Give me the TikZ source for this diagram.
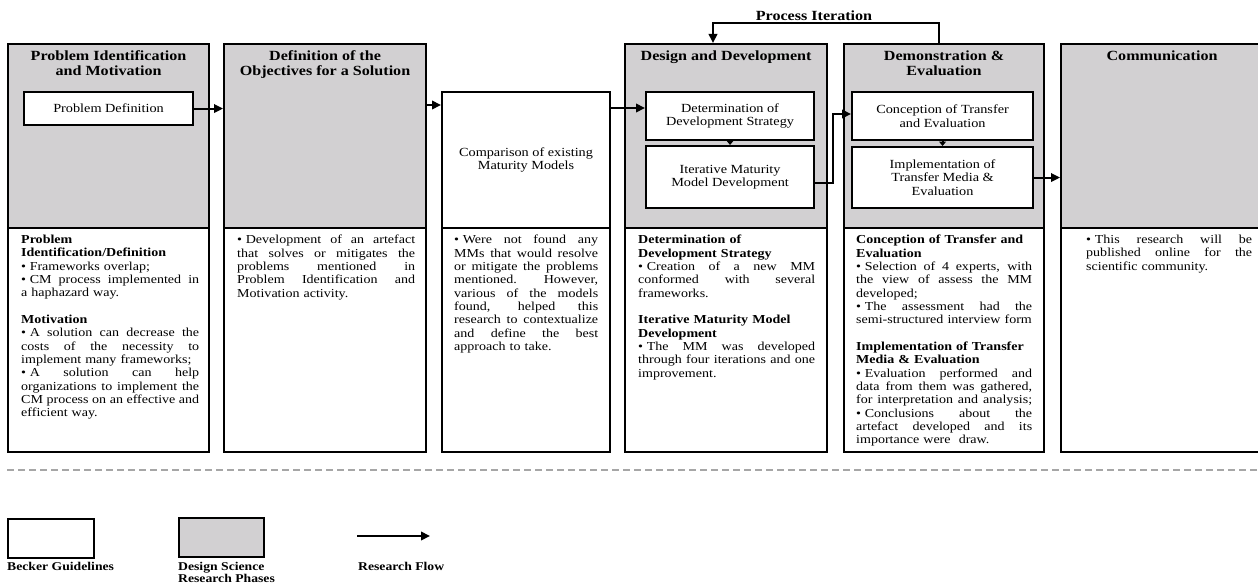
\documentclass[tikz,border=0pt]{standalone}
\usepackage{fontspec}
\setmainfont{Liberation Serif}[FakeStretch=1.15]
\usetikzlibrary{arrows.meta}
\definecolor{phasegray}{RGB}{210,208,210}
\newcommand\jl[1]{\makebox[\hsize][s]{\spaceskip=0pt\xspaceskip=0pt #1}}
\newcommand\nl[1]{\mbox{#1}}
\newcommand\bul{\mbox{•\kern0.3em}}
\newcommand\bodyf{\fontsize{12.2}{13.33}\selectfont}
\newcommand\titlef{\fontsize{14}{15}\selectfont\bfseries}
\newcommand\boxf{\fontsize{12.4}{13.5}\selectfont}
\newcommand\legf{\fontsize{11.9}{12.5}\selectfont\bfseries}
\tikzset{
  phase/.style={draw, line width=2.1pt, fill=phasegray, inner sep=0pt, anchor=north west},
  desc/.style={draw, line width=2.1pt, fill=white, inner sep=0pt, anchor=north west},
  innerbox/.style={draw, line width=2.1pt, fill=white, inner sep=0pt, anchor=north west, align=center, font=\boxf},
  flow/.style={line width=2pt, -{Triangle[length=9pt,width=8.5pt]}},
  flowshort/.style={line width=2pt, -{Triangle[length=4.5pt,width=7pt]}},
  body/.style={anchor=north west, inner sep=0pt, align=left, font=\bodyf},
  title/.style={anchor=north, inner sep=0pt, align=center, font=\titlef},
  legend/.style={inner sep=0pt, align=left, font=\legf, anchor=north west},
  sep/.style={line width=1.2pt, gray!70, dash pattern=on 7pt off 4pt}
}
\begin{document}
\begin{tikzpicture}[x=1pt,y=-1pt]
\useasboundingbox (0,0) rectangle (1258,586);
% phase columns
\node[phase, minimum width=201pt, minimum height=184pt] (p1) at (7,43) {};
\node[desc, minimum width=201pt, minimum height=224pt] (d1) at (7,227) {};
\node[phase, minimum width=202pt, minimum height=184pt] (p2) at (223,43) {};
\node[desc, minimum width=202pt, minimum height=224pt] (d2) at (223,227) {};
\node[desc, minimum width=168pt, minimum height=136pt, align=center, font=\boxf] (cp) at (441,91) {Comparison of existing\\Maturity Models};
\node[desc, minimum width=168pt, minimum height=224pt] (d3) at (441,227) {};
\node[phase, minimum width=202pt, minimum height=184pt] (p4) at (624,43) {};
\node[desc, minimum width=202pt, minimum height=224pt] (d4) at (624,227) {};
\node[phase, minimum width=200pt, minimum height=184pt] (p5) at (843,43) {};
\node[desc, minimum width=200pt, minimum height=224pt] (d5) at (843,227) {};
\node[phase, minimum width=202pt, minimum height=184pt] (p6) at (1060,43) {};
\node[desc, minimum width=202pt, minimum height=224pt] (d6) at (1060,227) {};
% titles
\node[title] (t1) at ([yshift=-7.5pt]p1.north) {Problem Identification\\and Motivation};
\node[title] (t2) at ([yshift=-7.5pt]p2.north) {Definition of the\\Objectives for a Solution};
\node[title] (t4) at ([yshift=-7.5pt]p4.north) {Design and Development};
\node[title] (t5) at ([yshift=-7.5pt]p5.north) {Demonstration \&\\Evaluation};
\node[title] (t6) at ([yshift=-7.5pt]p6.north) {Communication};
% inner boxes
\node[innerbox, minimum width=169pt, minimum height=33pt] (pd) at (23,91) {Problem Definition};
\node[innerbox, minimum width=168pt, minimum height=48pt] (dds) at (645,91) {Determination of\\Development Strategy};
\node[innerbox, minimum width=168pt, minimum height=62pt] (immd) at (645,145) {Iterative Maturity\\Model Development};
\node[innerbox, minimum width=181pt, minimum height=48pt] (cte) at (851,91) {Conception of Transfer\\and Evaluation};
\node[innerbox, minimum width=181pt, minimum height=61pt] (itme) at (851,146) {Implementation of\\Transfer Media \&\\Evaluation};
% connectors
\coordinate (a2) at (0,105);
\coordinate (a3) at (0,108);
\coordinate (k1) at (0,183);
\coordinate (k2) at (833,114);
\coordinate (k3) at (939,23);
\coordinate (k4) at (713,23);
\draw[flow] (pd.east) -- (pd.east -| p2.west);
\draw[flow] (p2.east |- a2) -- (cp.west |- a2);
\draw[flow] (cp.east |- a3) -- (dds.west |- a3);
\draw[flowshort] (dds.south) -- (immd.north);
\draw[flow] (immd.east |- k1) -| (k2) -- (cte.west |- k2);
\draw[flowshort] (cte.south) -- (itme.north);
\draw[flow] (itme.east) -- (itme.east -| p6.west);
\draw[flow] (p5.north -| k3) -- (k3) -- (k4) -- (p4.north -| k4);
\node[inner sep=0pt, font=\titlef] (pi) at (814,16) {Process Iteration};
% descriptions
\node[body, text width=178pt] (b1) at (21,235) {%
\nl{\textbf{Problem}}\\
\nl{\textbf{Identification/Definition}}\\
\nl{\bul Frameworks overlap;}\\
\jl{\bul CM process implemented in}\\
\nl{a haphazard way.}\\[13.33pt]
\nl{\textbf{Motivation}}\\
\jl{\bul A solution can decrease the}\\
\jl{costs of the necessity to}\\
\nl{implement many frameworks;}\\
\jl{\bul A solution can help}\\
\jl{organizations to implement the}\\
\jl{CM process on an effective and}\\
\nl{efficient way.}};
\node[body, text width=178pt] (b2) at (237,235) {%
\jl{\bul Development of an artefact}\\
\jl{that solves or mitigates the}\\
\jl{problems mentioned in}\\
\jl{Problem Identification and}\\
\nl{Motivation activity.}};
\node[body, text width=144pt] (b3) at (454,235) {%
\jl{\bul Were not found any}\\
\jl{MMs that would resolve}\\
\jl{or mitigate the problems}\\
\jl{mentioned. However,}\\
\jl{various of the models}\\
\jl{found, helped this}\\
\jl{research to contextualize}\\
\jl{and define the best}\\
\nl{approach to take.}};
\node[body, text width=177pt] (b4) at (638,235) {%
\nl{\textbf{Determination of}}\\
\nl{\textbf{Development Strategy}}\\
\jl{\bul Creation of a new MM}\\
\jl{conformed with several}\\
\nl{frameworks.}\\[13.33pt]
\nl{\textbf{Iterative Maturity Model}}\\
\nl{\textbf{Development}}\\
\jl{\bul The MM was developed}\\
\jl{through four iterations and one}\\
\nl{improvement.}};
\node[body, text width=176pt] (b5) at (856,235) {%
\nl{\textbf{Conception of Transfer and}}\\
\nl{\textbf{Evaluation}}\\
\jl{\bul Selection of 4 experts, with}\\
\jl{the view of assess the MM}\\
\nl{developed;}\\
\jl{\bul The assessment had the}\\
\nl{semi-structured interview form}\\[13.33pt]
\nl{\textbf{Implementation of Transfer}}\\
\nl{\textbf{Media \& Evaluation}}\\
\jl{\bul Evaluation performed and}\\
\jl{data from them was gathered,}\\
\jl{for interpretation and analysis;}\\
\jl{\bul Conclusions about the}\\
\jl{artefact developed and its}\\
\nl{importance were~ draw.}};
\node[body, text width=166pt] (b6) at (1086,235) {%
\jl{\bul This research will be}\\
\jl{published online for the}\\
\nl{scientific community.}};
% separator
\coordinate (s1) at (7,470);
\coordinate (s2) at (1258,470);
\draw[sep] (s1) -- (s2);
% legend
\node[desc, line width=1.6pt, minimum width=86pt, minimum height=39pt] (lb) at (7,518) {};
\node[phase, minimum width=85pt, minimum height=39pt] (lg) at (178,517) {};
\coordinate (la1) at (357,536);
\coordinate (la2) at (430,536);
\draw[flow] (la1) -- (la2);
\node[legend] (lbt) at (7,562) {Becker Guidelines};
\node[legend] (lgt) at (178,562) {Design Science\\Research Phases};
\node[legend] (lat) at (358,562) {Research Flow};
\end{tikzpicture}
\end{document}
